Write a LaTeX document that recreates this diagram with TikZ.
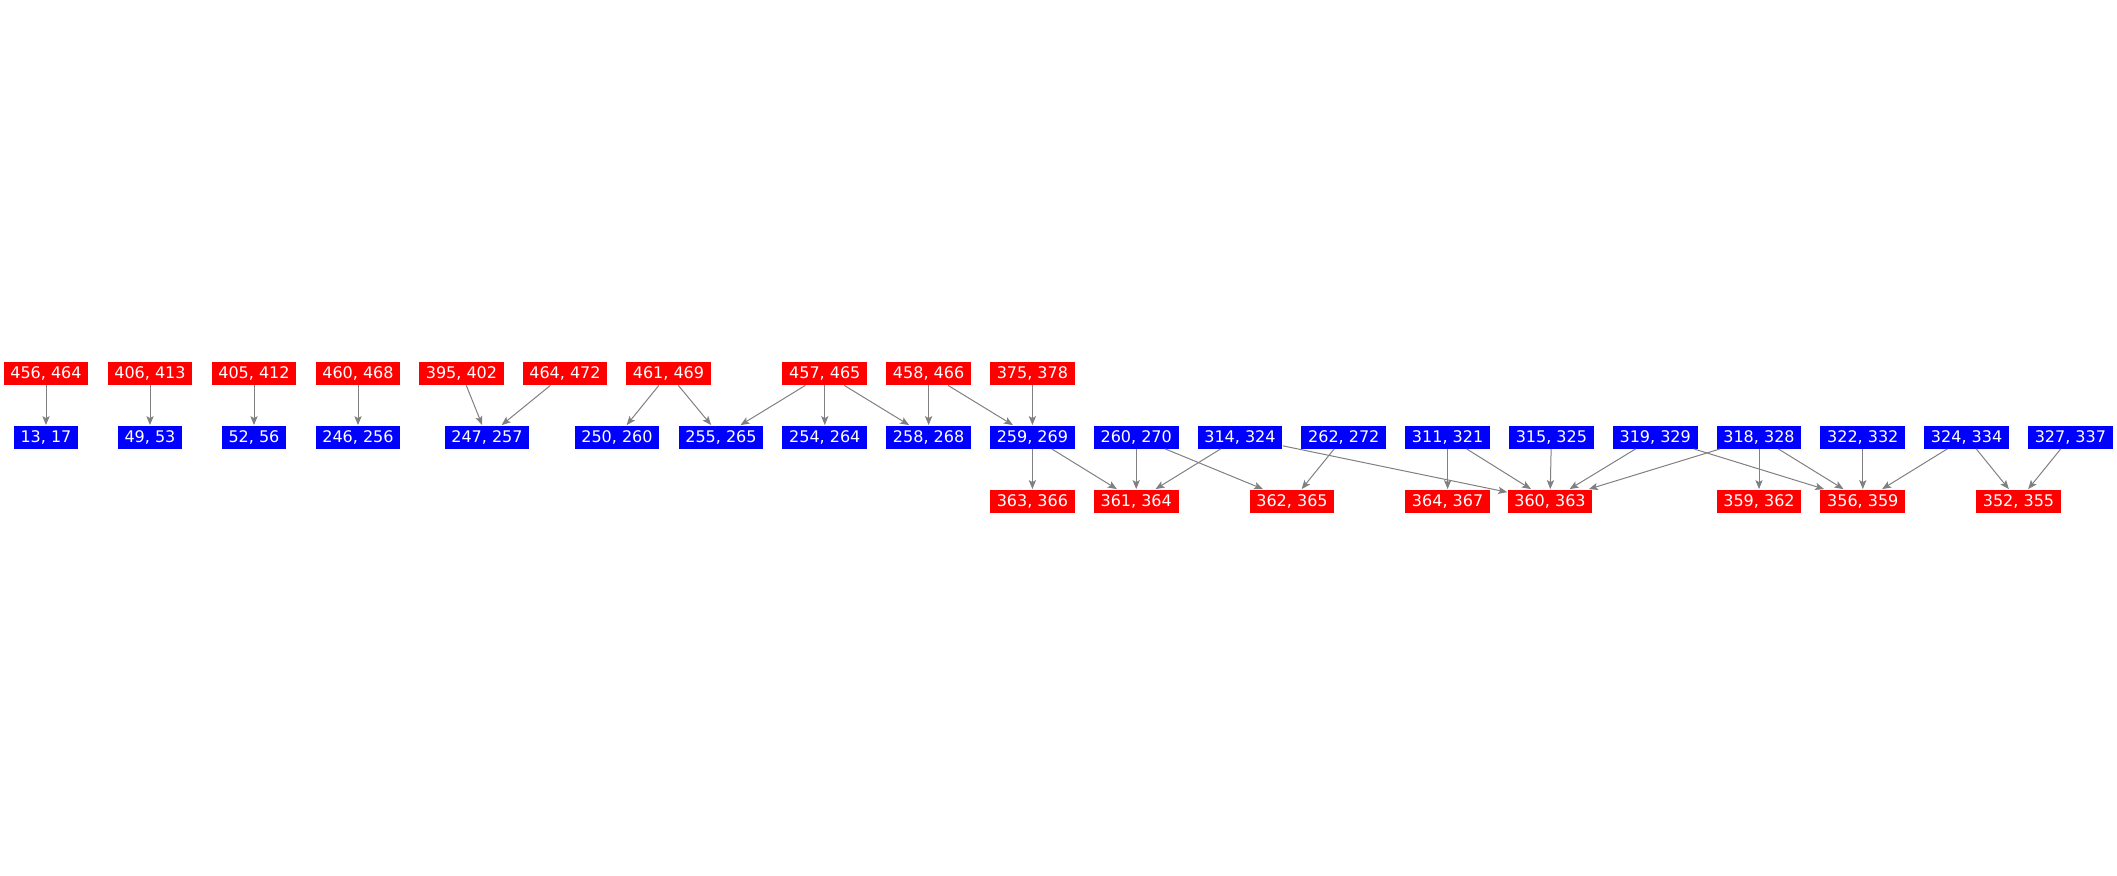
\documentclass[tikz,border=0pt]{standalone}
\usepackage{fontspec}
\setmainfont{DejaVu Sans}
\usetikzlibrary{arrows.meta}

\begin{document}
\begin{tikzpicture}[x=0.5pt,y=-0.5pt,
  box/.style={text=white,font=\fontsize{8}{9.6}\selectfont,inner xsep=3.4pt,inner ysep=0pt,minimum height=11.5pt},
  redbox/.style={box,fill=red},
  bluebox/.style={box,fill=blue},
  link/.style={draw=gray,line width=0.5pt,-{Stealth[length=4.5pt,width=3.6pt,inset=1pt]}}]
        \useasboundingbox (0,0) rectangle (2117,875);

        \node[redbox] (n456) at (46,373.5) {456, 464};
        \node[redbox] (n406) at (150,373.5) {406, 413};
        \node[redbox] (n405) at (254,373.5) {405, 412};
        \node[redbox] (n460) at (358,373.5) {460, 468};
        \node[redbox] (n395) at (461.5,373.5) {395, 402};
        \node[redbox] (n464) at (565,373.5) {464, 472};
        \node[redbox] (n461) at (668.5,373.5) {461, 469};
        \node[redbox] (n457) at (824.8,373.5) {457, 465};
        \node[redbox] (n458) at (928.6,373.5) {458, 466};
        \node[redbox] (n375) at (1032.4,373.5) {375, 378};

        \node[bluebox] (n13) at (46,437) {13, 17};
        \node[bluebox] (n49) at (150,437) {49, 53};
        \node[bluebox] (n52) at (254,437) {52, 56};
        \node[bluebox] (n246) at (358,437) {246, 256};
        \node[bluebox] (n247) at (487,437) {247, 257};
        \node[bluebox] (n250) at (617,437) {250, 260};
        \node[bluebox] (n255) at (721,437) {255, 265};
        \node[bluebox] (n254) at (824.8,437) {254, 264};
        \node[bluebox] (n258) at (928.6,437) {258, 268};
        \node[bluebox] (n259) at (1032.4,437) {259, 269};
        \node[bluebox] (n260) at (1136.2,437) {260, 270};
        \node[bluebox] (n314) at (1240,437) {314, 324};
        \node[bluebox] (n262) at (1343.8,437) {262, 272};
        \node[bluebox] (n311) at (1447.6,437) {311, 321};
        \node[bluebox] (n315) at (1551.4,437) {315, 325};
        \node[bluebox] (n319) at (1655.2,437) {319, 329};
        \node[bluebox] (n318) at (1759,437) {318, 328};
        \node[bluebox] (n322) at (1862.8,437) {322, 332};
        \node[bluebox] (n324) at (1966.6,437) {324, 334};
        \node[bluebox] (n327) at (2070.4,437) {327, 337};

        \node[redbox] (n363) at (1032.4,501) {363, 366};
        \node[redbox] (n361) at (1136.2,501) {361, 364};
        \node[redbox] (n362) at (1292,501) {362, 365};
        \node[redbox] (n364) at (1447.6,501) {364, 367};
        \node[redbox] (n360) at (1550,501) {360, 363};
        \node[redbox] (n359) at (1759,501) {359, 362};
        \node[redbox] (n356) at (1862.8,501) {356, 359};
        \node[redbox] (n352) at (2018.5,501) {352, 355};

        \draw[link] (n456) -- (n13);
        \draw[link] (n406) -- (n49);
        \draw[link] (n405) -- (n52);
        \draw[link] (n460) -- (n246);
        \draw[link] (n395) -- (n247);
        \draw[link] (n464) -- (n247);
        \draw[link] (n461) -- (n250);
        \draw[link] (n461) -- (n255);
        \draw[link] (n457) -- (n255);
        \draw[link] (n457) -- (n254);
        \draw[link] (n457) -- (n258);
        \draw[link] (n458) -- (n258);
        \draw[link] (n458) -- (n259);
        \draw[link] (n375) -- (n259);
        \draw[link] (n259) -- (n363);
        \draw[link] (n259) -- (n361);
        \draw[link] (n260) -- (n361);
        \draw[link] (n260) -- (n362);
        \draw[link] (n314) -- (n361);
        \draw[link] (n314) -- (n360);
        \draw[link] (n262) -- (n362);
        \draw[link] (n311) -- (n364);
        \draw[link] (n311) -- (n360);
        \draw[link] (n315) -- (n360);
        \draw[link] (n319) -- (n360);
        \draw[link] (n319) -- (n356);
        \draw[link] (n318) -- (n360);
        \draw[link] (n318) -- (n359);
        \draw[link] (n318) -- (n356);
        \draw[link] (n322) -- (n356);
        \draw[link] (n324) -- (n356);
        \draw[link] (n324) -- (n352);
        \draw[link] (n327) -- (n352);
\end{tikzpicture}
\end{document}
